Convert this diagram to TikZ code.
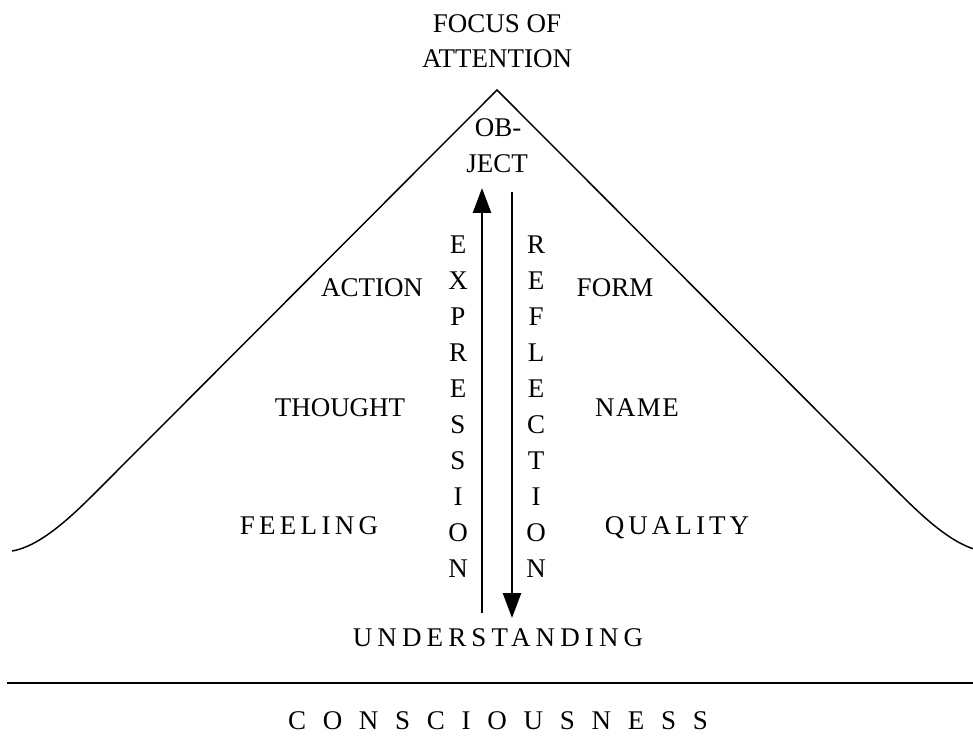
\documentclass[tikz,border=0pt]{standalone}
\usepackage{fontspec}
\setmainfont{Liberation Serif}
\usetikzlibrary{arrows.meta}
\newcommand{\lsp}[2]{{\addfontfeature{LetterSpace=#1}#2}}
\begin{document}
\begin{tikzpicture}[x=0.75pt,y=-0.75pt,
  lab/.style={inner sep=0pt,anchor=base,font=\fontsize{20.25}{24}\selectfont},
  outline/.style={line width=1.1pt},
  flow/.style={line width=2pt,-{Triangle[length=18.75pt,width=13.5pt]}},
  rule/.style={line width=1.7pt}]
\useasboundingbox (0,0) rectangle (973,737);
% mountain outline
\coordinate (lend) at (12,551);
\coordinate (lbend) at (100,488);
\coordinate (apex) at (497,90);
\coordinate (rbend) at (894,488);
\coordinate (rend) at (982,551);
\draw[outline] (lend) .. controls (42,546) and (75,513) .. (lbend) -- (apex) -- (rbend) .. controls (919,513) and (952,546) .. (rend);
% texts
\node[lab] (focus) at (497,33) {FOCUS OF};
\node[lab] (attn) at (497,68) {ATTENTION};
\node[lab] (ob) at (498,137) {OB-};
\node[lab] (ject) at (497,173) {JECT};
\node[lab] (action) at (372,297) {ACTION};
\node[lab] (thought) at (340,416) {THOUGHT};
\node[lab] (feeling) at (309,534) {\lsp{16}{FEELING}};
\node[lab] (form) at (615,297) {FORM};
\node[lab] (name) at (637,416) {\lsp{5}{NAME}};
\node[lab] (quality) at (677,534) {\lsp{15}{QUALITY}};
\node[lab] (und) at (498,646) {\lsp{19}{UNDERSTANDING}};
\node[lab] (cons) at (498,729) {\lsp{62}{CONSCIOUSNESS}};
\foreach \l [count=\i] in {E,X,P,R,E,S,S,I,O,N}
  \node[lab] (ex\i) at (458,{254+(\i-1)*35.9}) {\l};
\foreach \l [count=\i] in {R,E,F,L,E,C,T,I,O,N}
  \node[lab] (re\i) at (536,{254+(\i-1)*35.9}) {\l};
% arrows
\coordinate (upbot) at (482,613);
\coordinate (uptop) at (482,188);
\coordinate (dntop) at (512,192);
\coordinate (dnbot) at (512,618);
\draw[flow] (upbot) -- (uptop);
\draw[flow] (dntop) -- (dnbot);
% rule
\coordinate (rl) at (7,683);
\coordinate (rr) at (973,683);
\draw[rule] (rl) -- (rr);
\end{tikzpicture}
\end{document}
